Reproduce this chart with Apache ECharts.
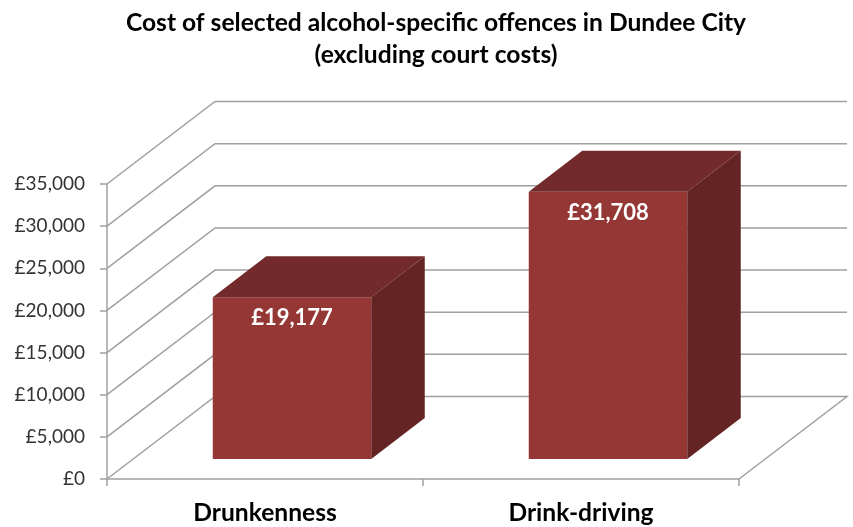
<!DOCTYPE html>
<html>
<head>
<meta charset="utf-8">
<style>html,body{margin:0;padding:0;background:#fff}#c{width:853px;height:527px}</style>
<script src="https://cdn.jsdelivr.net/npm/echarts@6/dist/echarts.min.js"></script>
</head>
<body>
<div id="c"></div>
<script>
const titleLines = ['Cost of selected alcohol-specific offences in Dundee City', '(excluding court costs)'];
const categories = ['Drunkenness', 'Drink-driving'];
const costs = [19177, 31708];
const costLabels = ['£19,177', '£31,708'];
const gridValues = [0, 5000, 10000, 15000, 20000, 25000, 30000, 35000];

const wallDX = 108, wallDY = -82.5;   // full depth of the 3D box
const barInsetX = 27, barInsetY = -20; // bar front relative to front of floor
const barDX = 53.5, barDY = -41;      // bar depth
const barWidth = 158.5;
const gridColor = '#a0a0a0';

const chart = echarts.init(document.getElementById('c'), null, {renderer: 'canvas'});

function renderGrid(params, api) {
  const cs = params.coordSys;
  const v = api.value(1);
  const p = api.coord([0, v]);
  const y = p[1], x0 = cs.x, x1 = cs.x + cs.width;
  const pts = [[x0, y], [x0 + wallDX, y + wallDY], [x1 + wallDX, y + wallDY]];
  if (v === 0) pts.push([x1, y]);
  return {
    type: 'polyline', silent: true,
    shape: {points: pts},
    style: {stroke: gridColor, lineWidth: 1.5, fill: null}
  };
}

function renderBar(params, api) {
  const base = api.coord([api.value(0), 0]);
  const top = api.coord([api.value(0), api.value(1)]);
  const cx = base[0] + barInsetX;
  const l = cx - barWidth / 2, r = cx + barWidth / 2;
  const b = base[1] + barInsetY, t = top[1] + barInsetY;
  return {
    type: 'group',
    children: [
      {type: 'polygon', shape: {points: [[l, b], [r, b], [r, t], [l, t]]}, style: {fill: '#953735'}},
      {type: 'polygon', shape: {points: [[l, t], [r, t], [r + barDX, t + barDY], [l + barDX, t + barDY]]}, style: {fill: '#722b2a'}},
      {type: 'polygon', shape: {points: [[r, b], [r + barDX, b + barDY], [r + barDX, t + barDY], [r, t]]}, style: {fill: '#632423'}},
      {type: 'text', style: {
        text: costLabels[params.dataIndex], x: cx, y: t + 21,
        fill: '#ffffff', font: 'bold 22px Lato, "Open Sans", sans-serif',
        align: 'center', verticalAlign: 'middle'
      }}
    ]
  };
}

chart.setOption({
  animation: false,
  backgroundColor: '#ffffff',
  title: {
    text: titleLines.join('\n'),
    left: 431, top: 2, textAlign: 'center',
    textStyle: {fontFamily: 'Lato, "Open Sans", sans-serif', fontWeight: 'bold', fontSize: 24.6, color: '#000', lineHeight: 32}
  },
  grid: {left: 107, top: 184, width: 632, height: 295, containLabel: false},
  xAxis: {
    type: 'category', data: categories, boundaryGap: true,
    axisLine: {lineStyle: {color: gridColor, width: 1.5}},
    axisTick: {show: true, alignWithLabel: false, length: 7, lineStyle: {color: gridColor, width: 1.5}},
    axisLabel: {color: '#000', fontFamily: 'Lato, "Open Sans", sans-serif', fontWeight: 'bold', fontSize: 24.6, margin: 22, interval: 0},
    splitLine: {show: false}
  },
  yAxis: {
    type: 'value', min: 0, max: 35000, interval: 5000,
    axisLine: {show: true, lineStyle: {color: gridColor, width: 1.5}},
    axisTick: {show: true, length: 7, lineStyle: {color: gridColor, width: 1.5}},
    axisLabel: {color: '#333', fontFamily: 'Lato, "Open Sans", sans-serif', fontSize: 19, margin: 22,
      formatter: v => '£' + v.toLocaleString('en-GB')},
    splitLine: {show: false}
  },
  series: [
    {type: 'custom', name: 'grid', silent: true, z: 1, renderItem: renderGrid,
      data: gridValues.map(v => [0, v]), encode: {x: 0, y: 1}},
    {type: 'custom', name: 'Cost', silent: true, z: 3, renderItem: renderBar,
      data: costs.map((v, i) => [i, v]), encode: {x: 0, y: 1}}
  ]
});
</script>
</body>
</html>
